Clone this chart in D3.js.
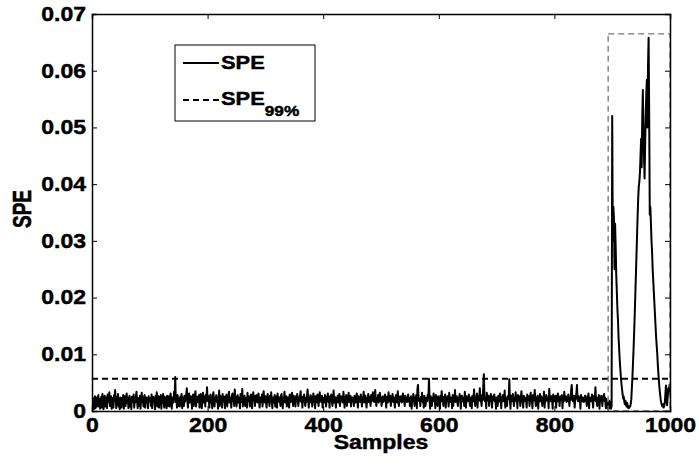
<!DOCTYPE html>
<html lang="en">
<head>
<meta charset="utf-8">
<script src="https://d3js.org/d3.v7.min.js"></script>
<style>
  body { margin: 0; background: #fff; }
  text { font-family: "Liberation Sans", Arial, Helvetica, sans-serif; font-weight: bold; fill: #000; stroke: #000; stroke-width: 0.45px; }
</style>
</head>
<body>
<script>
// SPE per sample, in units of 1e-4 (samples 1..899, normal operation)
var speNormal = [
  9,22,3,18,26,5,16,24,8,19, 28,8,21,4,17,25,6,30,15,3, 20,27,8,18,24,5,29,16,22,33, 9,19,26,4,23,17,6,28,21,37, 18,5,25,15,30,8,20,3,24,16,
  6,23,17,28,4,21,26,9,19,31, 15,24,5,20,27,8,18,3,25,22, 16,29,6,21,15,26,34,18,5,23, 19,9,27,4,22,32,16,20,8,25, 28,6,18,24,15,21,5,26,17,20,
  23,9,29,5,19,25,16,22,3,27, 18,33,8,20,26,6,24,17,28,4, 21,15,30,19,6,25,16,23,5,27, 9,20,26,8,22,31,17,4,24,18, 15,34,21,60,16,25,6,28,19,9,
  22,8,26,18,30,5,24,19,9,27, 16,23,28,40,17,6,25,31,15,21, 26,18,4,24,29,9,20,27,35,8, 19,25,16,22,28,6,23,30,17,5, 24,32,15,20,26,8,29,18,42,21,
  17,26,6,23,29,15,21,5,27,33, 18,8,24,20,28,16,22,4,25,36, 9,27,19,23,6,30,17,25,21,5, 26,16,29,8,22,18,34,15,24,20, 6,27,31,17,23,9,38,19,25,8,
  21,28,15,24,18,5,30,22,16,39, 8,25,20,27,9,19,23,6,32,17, 26,21,8,24,29,16,5,25,33,18, 22,9,27,19,28,15,20,31,17,6, 24,21,16,29,8,23,35,19,15,26,
  18,6,25,30,16,22,9,27,20,33, 17,5,24,15,21,28,8,19,26,6, 31,18,25,16,22,9,27,30,19,5, 23,17,34,15,21,26,8,20,24,18, 6,29,22,16,25,32,19,9,27,17,
  21,8,26,17,30,20,9,24,18,27, 35,16,22,6,25,19,29,17,9,23, 16,26,38,20,6,24,18,28,15,25, 8,21,31,23,17,5,26,20,15,29, 19,9,24,33,17,22,16,27,6,23,
  20,15,28,22,8,25,18,31,16,24, 6,26,19,29,17,9,21,36,15,25, 19,6,23,17,27,15,22,30,9,20, 26,17,24,15,34,21,6,25,19,28, 9,18,23,32,16,22,27,8,20,24,
  17,23,9,27,19,15,25,31,21,6, 26,18,22,16,29,20,8,24,21,34, 15,19,27,17,6,23,21,30,16,25, 20,9,28,17,23,33,21,16,26,37, 19,9,23,17,28,15,21,32,18,24,
  9,19,26,16,23,18,29,21,6,25, 19,15,33,17,23,27,9,21,19,30, 16,24,18,6,22,28,19,15,35,21, 9,25,17,26,19,15,23,31,17,21, 9,27,19,24,16,21,29,17,23,9,
  19,26,4,22,18,30,21,9,24,19, 28,5,38,46,22,17,21,9,25,19, 32,16,23,6,27,21,9,19,24,17, 29,22,57,19,4,26,21,9,24,17, 31,19,23,5,28,21,17,9,26,19,
  23,4,27,19,35,17,21,9,25,19, 29,6,23,17,26,21,8,32,19,16, 24,21,5,28,9,23,19,37,16,21, 26,17,9,24,19,30,23,4,21,27, 17,19,24,9,34,21,6,26,19,23,
  17,29,21,9,24,19,5,27,23,17, 38,19,9,24,21,31,6,26,19,23, 40,17,21,9,28,19,46,65,24,17, 23,5,32,21,19,27,9,24,17,30, 23,6,21,26,19,29,17,23,4,24,
  21,9,27,19,17,31,23,5,24,19, 28,17,21,36,6,23,19,9,26,21, 24,56,19,4,27,23,17,30,21,9, 24,19,33,17,23,5,28,21,19,26, 9,23,35,17,21,6,27,19,24,17,
  23,6,29,21,19,26,9,24,32,17, 21,5,28,23,19,37,17,9,24,21, 27,4,23,19,30,17,26,21,9,24, 19,34,6,23,17,28,21,19,24,5, 39,23,17,21,26,19,4,29,23,17,
  21,27,6,24,19,31,17,23,9,26, 21,19,28,5,24,17,34,21,19,26, 16,23,17,29,21,9,24,19,38,46, 23,17,21,27,6,19,24,30,46,21, 17,26,19,23,4,28,21,17,24,19,
  16,23,27,17,21,9,26,19,31,5, 23,19,24,17,29,21,6,26,19,23, 42,17,21,9,24,19,28,4,23,17, 27,21,9,26,19,30,17,23,5,21, 9,6,3,15,18,5,16,4,9
];
// SPE per sample, in units of 1e-4 (samples 900..1000, fault)
var speFault = [
  520,300,360,340,250,330,290,240,210,180,
  160,130,110,90,75,60,48,38,30,22,
  25,16,12,18,10,8,14,6,9,5,
  7,8,12,20,40,60,85,110,140,170,
  205,240,275,310,345,375,396,405,420,450,
  480,430,520,566,500,450,410,470,520,560,
  584,500,610,658,520,346,360,330,300,280,
  250,230,210,190,170,150,130,115,100,80,
  65,50,38,28,20,14,10,8,12,6,
  9,15,30,45,20,10,25,40,30,46,
  46
];
var spe99 = 0.0057;                 // control limit
var faultBox = [893, 1000, 0.0665]; // start sample, end sample, top
var xTicks = [0, 200, 400, 600, 800, 1000];
var yTicks = [0, 0.01, 0.02, 0.03, 0.04, 0.05, 0.06, 0.07];

var spe = speNormal.concat(speFault).map(function(v, i) {
  return { s: i + 1, v: v / 1e4 };
});

var W = 699, H = 470, sx = 1.15;
var mLeft = 92, mRight = 670, mTop = 14, mBottom = 411;

var x = d3.scaleLinear().domain([0, 1000]).range([mLeft, mRight]);
var y = d3.scaleLinear().domain([0, 0.07]).range([mBottom, mTop]);

var svg = d3.select("body").append("svg")
    .attr("width", W)
    .attr("height", H);

svg.append("defs").append("clipPath").attr("id", "plot")
  .append("rect")
    .attr("x", mLeft).attr("y", mTop)
    .attr("width", mRight - mLeft).attr("height", mBottom - mTop);

var plot = svg.append("g").attr("clip-path", "url(#plot)");

var line = d3.line()
    .x(function(d) { return x(d.s); })
    .y(function(d) { return y(d.v); });

plot.append("path")
    .datum(spe)
    .attr("d", line)
    .attr("fill", "none")
    .attr("stroke", "#000")
    .attr("stroke-width", 2)
    .attr("stroke-linejoin", "round");

plot.append("line")
    .attr("x1", x(0)).attr("x2", x(1000))
    .attr("y1", y(spe99)).attr("y2", y(spe99))
    .attr("stroke", "#000")
    .attr("stroke-width", 2)
    .attr("stroke-dasharray", "6,4");

svg.append("rect")
    .attr("x", x(faultBox[0]))
    .attr("y", y(faultBox[2]))
    .attr("width", x(faultBox[1]) - x(faultBox[0]))
    .attr("height", y(0) - y(faultBox[2]))
    .attr("fill", "none")
    .attr("stroke", "#777")
    .attr("stroke-width", 1.3)
    .attr("stroke-dasharray", "6,4");

// axes, ticks inward as in matlab
var fmtY = function(d) { return d === 0 ? "0" : d3.format(".2f")(d); };

var gx = svg.append("g").attr("transform", "translate(0," + mBottom + ")")
    .call(d3.axisBottom(x).tickValues(xTicks).tickSize(-5).tickPadding(7).tickFormat(d3.format("d")));
var gy = svg.append("g").attr("transform", "translate(" + mLeft + ",0)")
    .call(d3.axisLeft(y).tickValues(yTicks).tickSize(-5).tickPadding(6).tickFormat(fmtY));
svg.append("g").attr("transform", "translate(0," + mTop + ")")
    .call(d3.axisTop(x).tickValues(xTicks).tickSize(-5).tickFormat(""));
svg.append("g").attr("transform", "translate(" + mRight + ",0)")
    .call(d3.axisRight(y).tickValues(yTicks).tickSize(-5).tickFormat(""));

svg.selectAll(".domain").attr("stroke", "#000").attr("stroke-width", 1.5);
svg.selectAll(".tick line").attr("stroke", "#000").attr("stroke-width", 1);
svg.selectAll(".tick text")
    .attr("font-size", 20)
    .attr("font-family", null)
    .attr("transform", "scale(" + sx + ",1)");
gy.selectAll(".tick text").attr("x", -6 / sx);

svg.append("text")
    .attr("transform", "translate(381,449) scale(" + sx + ",1)")
    .attr("text-anchor", "middle")
    .attr("font-size", 20)
    .text("Samples");

svg.append("text")
    .attr("transform", "translate(31,209) scale(1.35,1) rotate(-90)")
    .attr("text-anchor", "middle")
    .attr("font-size", 19)
    .text("SPE");

// legend
var lg = svg.append("g");
lg.append("rect")
    .attr("x", 175).attr("y", 45)
    .attr("width", 140).attr("height", 76)
    .attr("fill", "#fff")
    .attr("stroke", "#000")
    .attr("stroke-width", 1);
lg.append("line")
    .attr("x1", 183).attr("x2", 219).attr("y1", 63).attr("y2", 63)
    .attr("stroke", "#000").attr("stroke-width", 2);
lg.append("line")
    .attr("x1", 183).attr("x2", 219).attr("y1", 100).attr("y2", 100)
    .attr("stroke", "#000").attr("stroke-width", 2)
    .attr("stroke-dasharray", "6,4");
lg.append("text")
    .attr("transform", "translate(221,69) scale(" + sx + ",1)")
    .attr("font-size", 19)
    .text("SPE");
var t2 = lg.append("text")
    .attr("transform", "translate(221,105) scale(" + sx + ",1)")
    .attr("font-size", 19);
t2.append("tspan").text("SPE");
t2.append("tspan").attr("font-size", 15).attr("dy", 11).text("99%");
</script>
</body>
</html>
